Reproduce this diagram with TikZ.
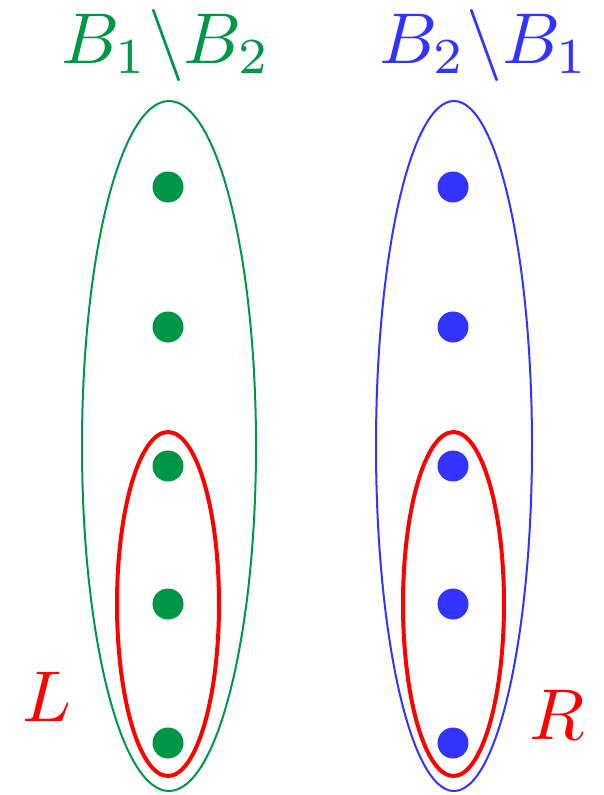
\documentclass[tikz,border=0pt]{standalone}
\usepackage{graphicx}
\definecolor{dkgreen}{RGB}{0,150,72}
\definecolor{myblue}{RGB}{51,51,255}
\definecolor{myred}{RGB}{255,0,0}
\newcommand{\bigtxt}[1]{\scalebox{7.2}{#1}}
\tikzset{
  dot/.style={circle,fill=#1,inner sep=0pt,minimum size=31pt},
  biglabel/.style={text=#1,inner sep=0pt},
  outerell/.style={draw=#1,line width=2pt},
  innerell/.style={draw=myred,line width=4pt}
}
\begin{document}
\begin{tikzpicture}[x=1pt,y=-1pt]
\useasboundingbox (0,0) rectangle (603,795);
% outer ellipses
\draw[outerell=dkgreen] (169,446) ellipse [x radius=87, y radius=345];
\draw[outerell=myblue] (454,446) ellipse [x radius=78, y radius=345];
% inner red ellipses
\draw[innerell] (168,604) ellipse [x radius=51, y radius=172];
\draw[innerell] (453.5,604) ellipse [x radius=50.5, y radius=172];
% dots
\foreach \i/\yy in {1/187,2/327,3/466,4/604,5/743}{
  \node[dot=dkgreen] (g\i) at (168,\yy) {};
  \node[dot=myblue] (b\i) at (453,\yy) {};
}
% labels
\node[biglabel=dkgreen,anchor=base] (lab1) at (166,63) {\bigtxt{$B_1\backslash B_2$}};
\node[biglabel=myblue,anchor=base] (lab2) at (484,63) {\bigtxt{$B_2\backslash B_1$}};
\node[biglabel=myred,anchor=base] (labL) at (47,721) {\bigtxt{$L$}};
\node[biglabel=myred,anchor=base] (labR) at (557,739) {\bigtxt{$R$}};
\end{tikzpicture}
\end{document}
